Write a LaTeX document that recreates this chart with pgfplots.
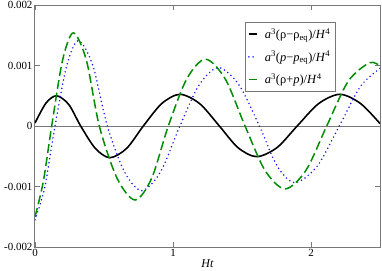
\documentclass[border=0pt]{standalone}
\usepackage{fontspec}
\setmainfont{Liberation Serif}
\usepackage{pgfplots}
\pgfplotsset{compat=1.18}
\definecolor{frame}{RGB}{120,120,120}
\definecolor{gblue}{RGB}{25,25,255}
\definecolor{ggreen}{RGB}{0,140,0}

\begin{document}
\begin{tikzpicture}
\path[use as bounding box] (-35bp,-24bp) rectangle (347bp,247bp);
\begin{axis}[
  at={(0,0)}, anchor=south west,
  scale only axis, width=345bp, height=242bp,
  xmin=0, xmax=2.5, ymin=-0.002, ymax=0.002,
  scaled x ticks=false, scaled y ticks=false,
  xtick={0,1,2}, xticklabels={0,1,2},
  ytick={-0.002,-0.001,0,0.001,0.002},
  yticklabels={-0.002,-0.001,0,0.001,0.002},
  tick align=inside, major tick length=5bp,
  axis line style={frame, line width=1bp},
  tick style={frame, line width=0.8bp},
  ticklabel style={font=\fontsize{11}{13}\selectfont},
  xticklabel style={yshift=1bp},
  yticklabel style={xshift=1bp},
  xlabel={\textit{Ht}},
  xlabel style={font=\fontsize{12}{14}\selectfont, yshift=4bp},
  extra y ticks={0}, extra y tick labels={},
  extra y tick style={grid=major, major grid style={frame, line width=1bp}},
  legend style={at={(0.872,0.93)}, anchor=north east, draw=frame,
    line width=1bp, fill=white, font=\fontsize{12.5}{15}\selectfont,
    row sep=7bp, inner xsep=3bp, inner ysep=4bp},
  legend cell align=left,
  legend image code/.code={\draw[#1] (0bp,0bp) -- (8bp,0bp);
    \path[draw=none] (0bp,0bp) -- (14bp,0bp);},
]
% a^3(rho - rho_eq)/H^4
\addplot[black, line width=1.6bp, smooth] coordinates {
  (0,0.05e-3) (0.08,0.38e-3) (0.157,0.50e-3) (0.245,0.354e-3) (0.331,0)
  (0.437,-0.37e-3) (0.543,-0.524e-3) (0.664,-0.37e-3) (0.785,0)
  (0.918,0.37e-3) (1.05,0.524e-3) (1.193,0.37e-3) (1.336,0)
  (1.471,-0.358e-3) (1.606,-0.507e-3) (1.753,-0.358e-3) (1.90,0)
  (2.055,0.37e-3) (2.21,0.524e-3) (2.36,0.37e-3) (2.5,0.04e-3)
};
\addlegendentry{\textit{a}\textsuperscript{3}(ρ−ρ\textsubscript{eq})/\textit{H}\textsuperscript{4}}
% a^3(p - p_eq)/H^4
\addplot[gblue, line width=1.7bp, line cap=round, dash pattern=on 0bp off 4.2bp, smooth] coordinates {
  (0,-1.55e-3) (0.07,-1.02e-3) (0.145,0) (0.23,1.0e-3) (0.314,1.41e-3)
  (0.419,1.0e-3) (0.524,0) (0.648,-0.757e-3) (0.773,-1.07e-3)
  (0.91,-0.757e-3) (1.05,0) (1.19,0.68e-3) (1.33,0.965e-3)
  (1.478,0.68e-3) (1.626,0) (1.755,-0.663e-3) (1.884,-0.937e-3)
  (2.045,-0.663e-3) (2.205,0) (2.36,0.66e-3) (2.5,0.95e-3)
};
\addlegendentry{\textit{a}\textsuperscript{3}(\textit{p}−\textit{p}\textsubscript{eq})/\textit{H}\textsuperscript{4}}
% a^3(rho + p)/H^4
\addplot[ggreen, line width=1.5bp, dash pattern=on 9bp off 4bp, smooth,
  legend image post style={solid}] coordinates {
  (0,-1.50e-3) (0.06,-0.92e-3) (0.121,0) (0.20,1.09e-3) (0.278,1.54e-3)
  (0.372,1.09e-3) (0.466,0) (0.595,-0.865e-3) (0.725,-1.223e-3)
  (0.845,-0.865e-3) (0.966,0) (1.10,0.78e-3) (1.235,1.105e-3)
  (1.378,0.78e-3) (1.522,0) (1.667,-0.735e-3) (1.812,-1.04e-3)
  (1.963,-0.735e-3) (2.114,0) (2.27,0.74e-3) (2.425,1.046e-3) (2.5,0.99e-3)
};
\addlegendentry{\textit{a}\textsuperscript{3}(ρ+\textit{p})/\textit{H}\textsuperscript{4}}
\end{axis}
\end{tikzpicture}
\end{document}
